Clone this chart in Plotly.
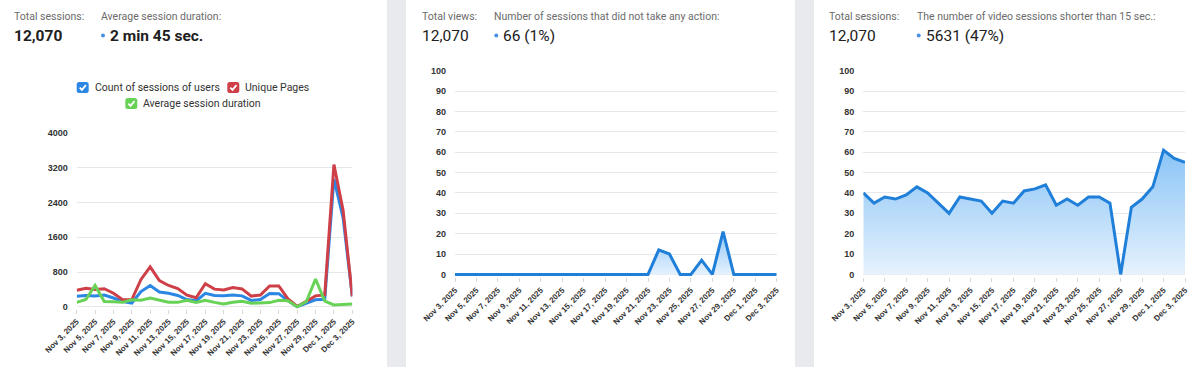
import pandas as pd
import plotly.graph_objects as go

W, H = 1200, 367

# ---------------- data ----------------
dates = [f"{d:%b} {d.day}, {d.year}" for d in pd.date_range("2025-11-03", "2025-12-03")]
tick_labels = dates[::2]

sessions_count = [240, 260, 245, 270, 200, 120, 85, 350, 490, 340, 310, 260, 165, 135, 310, 260,
                  250, 270, 250, 145, 165, 305, 300, 135, 5, 80, 160, 170, 2950, 2050, 240]
unique_pages = [380, 425, 395, 415, 310, 160, 165, 630, 920, 600, 490, 420, 265, 205, 530, 405,
                385, 440, 410, 245, 270, 480, 480, 180, 5, 120, 250, 270, 3280, 2220, 240]
avg_duration = [100, 165, 490, 120, 115, 100, 160, 150, 200, 155, 105, 100, 150, 100, 150, 100,
                65, 100, 125, 80, 85, 95, 150, 140, 0, 120, 640, 130, 40, 45, 60]
no_action = [0, 0, 0, 0, 0, 0, 0, 0, 0, 0, 0, 0, 0, 0, 0, 0,
             0, 0, 0, 12, 10, 0, 0, 7, 0, 21, 0, 0, 0, 0, 0]
short_video = [40, 35, 38, 37, 39, 43, 40, 35, 30, 38, 37, 36, 30, 36, 35, 41,
               42, 44, 34, 37, 34, 38, 38, 35, 0, 33, 37, 43, 61, 57, 55]

left_yticks = [0, 800, 1600, 2400, 3200, 4000]
pct_yticks = [0, 10, 20, 30, 40, 50, 60, 70, 80, 90, 100]

headers = [
    # (label1, value1, label2, value2, bold)
    ("Total sessions:", "12,070", "Average session duration:", "2 min 45 sec.", True),
    ("Total views:", "12,070", "Number of sessions that did not take any action:", "66 (1%)", False),
    ("Total sessions:", "12,070", "The number of video sessions shorter than 15 sec.:", "5631 (47%)", False),
]
legend_items = [("Count of sessions of users", "#2b87e3"), ("Unique Pages", "#cf3f48"),
                ("Average session duration", "#68d257")]

# ---------------- styles ----------------
BLUE = "#2b87e3"
RED = "#cf3f48"
GREEN = "#68d257"
AREA_LINE = "#1f7fd9"
GRID = "#e6e7ea"
YTICKFONT = dict(family="Liberation Sans, Arial, sans-serif", size=9, color="#333333", weight="bold")
XTICKFONT = dict(family="Liberation Sans, Arial, sans-serif", size=8, color="#333333", weight="bold")


def px(x):
    return x / W


def py(y):
    return 1 - y / H


fig = go.Figure()

# left chart lines
fig.add_trace(go.Scatter(x=dates, y=sessions_count, mode="lines", line=dict(color=BLUE, width=3),
                         xaxis="x", yaxis="y", showlegend=False))
fig.add_trace(go.Scatter(x=dates, y=unique_pages, mode="lines", line=dict(color=RED, width=3),
                         xaxis="x", yaxis="y", showlegend=False))
fig.add_trace(go.Scatter(x=dates, y=avg_duration, mode="lines", line=dict(color=GREEN, width=3),
                         xaxis="x", yaxis="y", showlegend=False))

# middle area chart
fig.add_trace(go.Scatter(x=dates, y=no_action, mode="lines", line=dict(color=AREA_LINE, width=3),
                         fill="tozeroy",
                         fillgradient=dict(type="vertical",
                                           colorscale=[[0, "rgba(228,241,253,1)"], [1, "rgba(145,199,247,1)"]]),
                         xaxis="x2", yaxis="y2", showlegend=False))
# right area chart
fig.add_trace(go.Scatter(x=dates, y=short_video, mode="lines", line=dict(color=AREA_LINE, width=3),
                         fill="tozeroy",
                         fillgradient=dict(type="vertical",
                                           colorscale=[[0, "rgba(230,242,253,1)"], [1, "rgba(138,196,246,1)"]]),
                         xaxis="x3", yaxis="y3", showlegend=False))


def xaxis(dom, anchor):
    return dict(domain=dom, type="category", categoryorder="array", categoryarray=dates,
                range=[0, len(dates) - 1], tickmode="array", tickvals=tick_labels,
                ticktext=tick_labels, tickangle=-45, tickfont=XTICKFONT, showgrid=False,
                ticks="outside", ticklen=4, tickcolor="#d8d8d8", showline=False, zeroline=False,
                fixedrange=True, automargin=False, anchor=anchor)


def yaxis(dom, rng, ticks, anchor):
    return dict(domain=dom, range=rng, tickmode="array", tickvals=ticks, tickfont=YTICKFONT,
                showgrid=True, gridcolor=GRID, gridwidth=1, zeroline=False, showline=False,
                ticks="", ticklabelstandoff=8, anchor=anchor, fixedrange=True, automargin=False)


# left: 0 -> 306.7px, 4000 -> 133.3px
l_scale = (306.7 - 133.3) / 4000
l_bottom = 306.7 + 50 * l_scale
# right two: 0 -> 274.4px, 100 -> 70.8px
p_scale = (274.4 - 70.8) / 100
p_bottom = 274.4 + 1.5 * p_scale

fig.update_layout(
    width=W, height=H, margin=dict(l=0, r=0, t=0, b=0, autoexpand=False),
    paper_bgcolor="#e9eaed", plot_bgcolor="rgba(0,0,0,0)",
    showlegend=False,
    xaxis=xaxis([px(76.7), px(352.3)], "y"),
    yaxis=yaxis([py(l_bottom), py(133.3)], [-50, 4000], left_yticks, "x"),
    xaxis2=xaxis([px(455), px(776.7)], "y2"),
    yaxis2=yaxis([py(p_bottom), py(70.8)], [-1.5, 100], pct_yticks, "x2"),
    xaxis3=xaxis([px(863.3), px(1185)], "y3"),
    yaxis3=yaxis([py(p_bottom), py(70.8)], [-1.5, 100], pct_yticks, "x3"),
)

shapes = []
# white cards
for x0, x1 in [(0, 387), (406, 795), (814, 1200)]:
    shapes.append(dict(type="rect", xref="paper", yref="paper", x0=px(x0), x1=px(x1), y0=0, y1=1,
                       fillcolor="white", line=dict(width=0), layer="below"))

annotations = []
LABEL_FONT = dict(family="Roboto, sans-serif", size=10.5, color="#6b6b6b")
card_x = [(13, 100), (420.7, 493.3), (828.3, 915.7)]
for (lx1, lx2), (lab1, val1, lab2, val2, bold) in zip(card_x, headers):
    vfont = dict(family="Roboto, sans-serif", size=15.5, color="#202020", weight=700 if bold else 400)
    annotations.append(dict(text=lab1, x=px(lx1 - 1), y=py(16.5), xref="paper", yref="paper",
                            xanchor="left", yanchor="middle", showarrow=False, font=LABEL_FONT))
    annotations.append(dict(text=lab2, x=px(lx2 - 1), y=py(16.5), xref="paper", yref="paper",
                            xanchor="left", yanchor="middle", showarrow=False, font=LABEL_FONT))
    annotations.append(dict(text=val1, x=px(lx1 - 1), y=py(35.5), xref="paper", yref="paper",
                            xanchor="left", yanchor="middle", showarrow=False, font=vfont))
    annotations.append(dict(text=val2, x=px(lx2 + 8), y=py(35.5), xref="paper", yref="paper",
                            xanchor="left", yanchor="middle", showarrow=False, font=vfont))
    # bullet
    shapes.append(dict(type="circle", xref="paper", yref="paper",
                       x0=px(lx2 + 1), x1=px(lx2 + 5), y0=py(37.5), y1=py(33.5),
                       fillcolor="#4a90e2", line=dict(width=0)))


def rounded_box(x0, y0, x1, y1, r):
    # pixel coords (top-left origin) -> paper-coordinate SVG path
    pts = []
    pts.append(f"M{px(x0 + r)},{py(y0)}")
    pts.append(f"L{px(x1 - r)},{py(y0)}")
    pts.append(f"Q{px(x1)},{py(y0)} {px(x1)},{py(y0 + r)}")
    pts.append(f"L{px(x1)},{py(y1 - r)}")
    pts.append(f"Q{px(x1)},{py(y1)} {px(x1 - r)},{py(y1)}")
    pts.append(f"L{px(x0 + r)},{py(y1)}")
    pts.append(f"Q{px(x0)},{py(y1)} {px(x0)},{py(y1 - r)}")
    pts.append(f"L{px(x0)},{py(y0 + r)}")
    pts.append(f"Q{px(x0)},{py(y0)} {px(x0 + r)},{py(y0)}")
    return " ".join(pts) + " Z"


# legend (checkbox + label)
LEG_FONT = dict(family="Roboto, sans-serif", size=10.5, color="#333333")
legend_pos = [(76.7, 87.5), (227.3, 87.5), (125.3, 103.5)]
for (name, col), (lx, ly) in zip(legend_items, legend_pos):
    shapes.append(dict(type="path", xref="paper", yref="paper",
                       path=rounded_box(lx, ly - 5.5, lx + 12, ly + 5.5, 2.5),
                       fillcolor=col, line=dict(width=0)))
    check = f"M{px(lx + 3)},{py(ly + 0.2)} L{px(lx + 5.2)},{py(ly + 2.4)} L{px(lx + 9.2)},{py(ly - 2.4)}"
    shapes.append(dict(type="path", xref="paper", yref="paper", path=check,
                       line=dict(color="white", width=1.8)))
    annotations.append(dict(text=name, x=px(lx + 16), y=py(ly), xref="paper", yref="paper",
                            xanchor="left", yanchor="middle", showarrow=False, font=LEG_FONT))

fig.update_layout(shapes=shapes, annotations=annotations)
fig.write_html("out.html", config={"displayModeBar": False},
               post_script="document.body.style.margin='0';document.body.style.overflow='hidden';")
